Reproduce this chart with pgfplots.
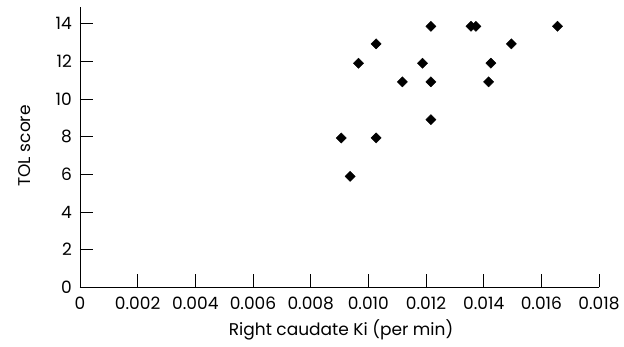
\documentclass[border=0pt]{standalone}
\usepackage{fontspec}
\setmainfont{Poppins}
\usepackage{pgfplots}
\pgfplotsset{compat=1.18}
\begin{document}
\fontsize{17pt}{20pt}\selectfont
\begin{tikzpicture}
\path[use as bounding box] (-80pt,-59.7pt) rectangle (544pt,287.3pt);
\begin{axis}[
  at={(0pt,0pt)}, anchor=origin,
  scale only axis,
  width=519pt, height=280.6pt,
  xmin=0, xmax=0.018, ymin=0, ymax=14.9,
  axis lines=left,
  axis line style={-, line width=0.8pt},
  every tick/.style={black, line width=0.8pt},
  tick align=inside,
  major tick length=13.3pt,
  scaled ticks=false,
  xtick={0,0.002,0.004,0.006,0.008,0.010,0.012,0.014,0.016,0.018},
  xticklabels={0,0.002,0.004,0.006,0.008,0.010,0.012,0.014,0.016,0.018},
  ytick={0,2,4,6,8,10,12,14},
  yticklabels={0,2,4,6,8,10,12,14},
  /pgf/number format/assume math mode=true,
  ticklabel style={font=\fontsize{17pt}{20pt}\selectfont},
  xticklabel style={anchor=base, yshift=-22pt},
  yticklabel style={anchor=east, inner sep=0pt, xshift=-8pt},
  label style={font=\fontsize{17pt}{20pt}\selectfont},
  xlabel={Right caudate Ki (per min)},
  ylabel={TOL score},
  every axis x label/.style={at={(axis description cs:0.503,-0.1725)}, anchor=base},
  every axis y label/.style={at={(axis description cs:-0.106,0.504)}, rotate=90, anchor=center},
  clip=false,
]
\addplot[only marks, mark=square*, mark size=3.6pt, mark options={rotate=45, fill=black, draw=black}] coordinates {
  (0.01217,13.86)
  (0.01356,13.86)
  (0.01373,13.86)
  (0.01656,13.86)
  (0.01027,12.93)
  (0.01496,12.93)
  (0.00966,11.90)
  (0.01188,11.90)
  (0.01425,11.90)
  (0.01118,10.91)
  (0.01217,10.91)
  (0.01417,10.91)
  (0.01217,8.90)
  (0.00906,7.93)
  (0.01027,7.93)
  (0.00937,5.89)
};
\end{axis}
\end{tikzpicture}
\end{document}
